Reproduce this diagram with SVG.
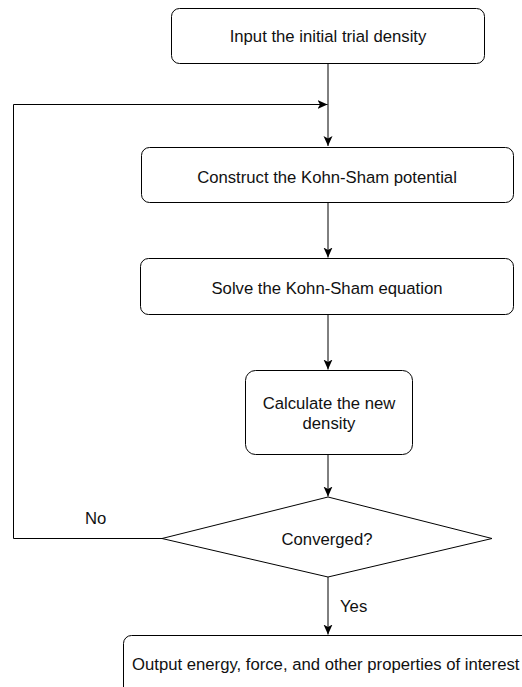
<svg xmlns="http://www.w3.org/2000/svg" width="522" height="687" viewBox="0 0 522 687">
<style>
.n{fill:#fff;stroke:#000;stroke-width:1}
.t{font-family:"Liberation Sans",Arial,Helvetica,sans-serif;font-size:16.7px;fill:#111}
.m{text-anchor:middle}
.c{fill:none;stroke:#000;stroke-width:1}
</style>
<defs>
<marker id="ah" markerUnits="userSpaceOnUse" viewBox="0 0 10 10" markerWidth="10" markerHeight="10" refX="10" refY="5" orient="auto">
<path d="M0,0.5 L10,5 L0,9.5 L2.5,5 z" fill="#000"/>
</marker>
</defs>
<rect width="522" height="687" fill="#fff"/>
<g id="connectors">
<path class="c" d="M328,63 V146" marker-end="url(#ah)"/>
<path class="c" d="M328,203 V257.5" marker-end="url(#ah)"/>
<path class="c" d="M328,315 V369.5" marker-end="url(#ah)"/>
<path class="c" d="M328,455 V496.5" marker-end="url(#ah)"/>
<path class="c" d="M328,577 V634.5" marker-end="url(#ah)"/>
<path class="c" d="M162,538.5 H13.5 V104.5 H327.5" marker-end="url(#ah)"/>
<text class="t" x="85" y="524">No</text>
<text class="t" x="340" y="612">Yes</text>
</g>
<g id="input">
<rect class="n" x="171.5" y="8.5" width="313" height="55" rx="8"/>
<text class="t m" x="328" y="42">Input the initial trial density</text>
</g>
<g id="construct">
<rect class="n" x="141.5" y="147.5" width="372" height="55" rx="8"/>
<text class="t m" x="327" y="182.5">Construct the Kohn-Sham potential</text>
</g>
<g id="solve">
<rect class="n" x="140.5" y="258.5" width="373" height="56" rx="8"/>
<text class="t m" x="327" y="293.5">Solve the Kohn-Sham equation</text>
</g>
<g id="calculate">
<rect class="n" x="245.5" y="370.5" width="167" height="84" rx="10"/>
<text class="t m" x="329" y="409">Calculate the new</text>
<text class="t m" x="329" y="428.5">density</text>
</g>
<g id="converged">
<polygon class="n" points="162,538.5 328,497 492,538.5 328,577"/>
<text class="t m" x="327" y="544.5">Converged?</text>
</g>
<g id="output">
<rect class="n" x="123.5" y="635.5" width="430" height="80" rx="8"/>
<text class="t" x="132" y="669.5">Output energy, force, and other properties of interest</text>
</g>
</svg>
